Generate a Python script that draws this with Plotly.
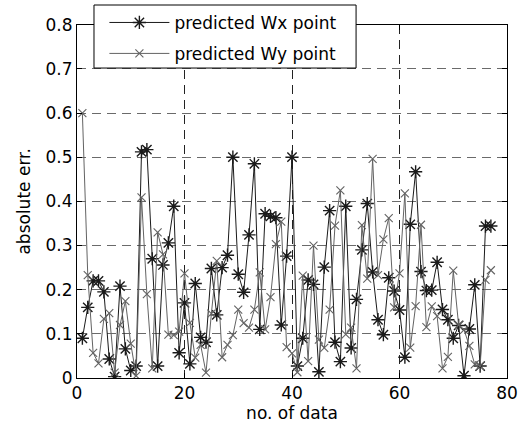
import plotly.graph_objects as go

x_idx = list(range(1, 78))

wx = [0.09, 0.16, 0.22, 0.22, 0.195, 0.043, 0.003, 0.208, 0.066, 0.017,
      0.027, 0.512, 0.517, 0.27, 0.027, 0.256, 0.306, 0.389, 0.057, 0.17,
      0.032, 0.214, 0.092, 0.081, 0.248, 0.143, 0.25, 0.278, 0.50, 0.235,
      0.194, 0.324, 0.485, 0.11, 0.372, 0.366, 0.363, 0.12, 0.276, 0.50,
      0.027, 0.09, 0.222, 0.212, 0.014, 0.251, 0.379, 0.081, 0.037, 0.389,
      0.068, 0.178, 0.29, 0.395, 0.24, 0.132, 0.098, 0.227, 0.197, 0.154,
      0.047, 0.348, 0.467, 0.241, 0.198, 0.199, 0.262, 0.155, 0.132, 0.09,
      0.119, 0.005, 0.111, 0.211, 0.027, 0.344, 0.344]

wy = [0.60, 0.233, 0.057, 0.033, 0.134, 0.147, 0.012, 0.12, 0.174, 0.078,
      0.005, 0.409, 0.19, 0.022, 0.33, 0.28, 0.098, 0.097, 0.105, 0.237,
      0.125, 0.046, 0.075, 0.012, 0.146, 0.265, 0.047, 0.075, 0.097, 0.155,
      0.124, 0.114, 0.155, 0.239, 0.11, 0.183, 0.303, 0.354, 0.07, 0.056,
      0.013, 0.232, 0.038, 0.30, 0.087, 0.068, 0.155, 0.345, 0.425, 0.099,
      0.114, 0.022, 0.346, 0.225, 0.496, 0.233, 0.314, 0.362, 0.16, 0.237,
      0.418, 0.069, 0.163, 0.347, 0.115, 0.162, 0.14, 0.022, 0.048, 0.243,
      0.12, 0.109, 0.073, 0.031, 0.027, 0.222, 0.244]

x_ticks = [0, 20, 40, 60, 80]
y_ticks = [0, 0.1, 0.2, 0.3, 0.4, 0.5, 0.6, 0.7, 0.8]
y_tick_labels = ["0", "0.1", "0.2", "0.3", "0.4", "0.5", "0.6", "0.7", "0.8"]

FONT = "DejaVu Sans, Liberation Sans, Arial, sans-serif"
FS = 17
C_WX = "#1a1a1a"
C_WY = "#636363"

fig = go.Figure()
fig.add_trace(go.Scatter(
    x=x_idx, y=wx, mode="lines+markers", name="predicted Wx point",
    line=dict(color=C_WX, width=1),
    marker=dict(symbol="asterisk-open", size=11, color=C_WX, line=dict(color=C_WX, width=1.4)),
    legend="legend",
))
fig.add_trace(go.Scatter(
    x=x_idx, y=wy, mode="lines+markers", name="predicted Wy point",
    line=dict(color=C_WY, width=1),
    marker=dict(symbol="x-thin-open", size=8, color=C_WY, line=dict(color=C_WY, width=1.1)),
    legend="legend2",
))

axis_common = dict(
    showline=True, linecolor="black", linewidth=1, mirror="ticks",
    ticks="inside", ticklen=5, tickcolor="black",
    showgrid=True, gridwidth=1, griddash="9px,6px",
    zeroline=False, automargin=False,
    tickfont=dict(family=FONT, size=FS, color="black"),
)

fig.update_layout(
    width=525, height=432,
    margin=dict(l=77, r=18, t=5, b=54),
    paper_bgcolor="white", plot_bgcolor="white",
    font=dict(family=FONT, size=FS, color="black"),
    xaxis=dict(range=[0, 80], tickvals=x_ticks, ticktext=[str(v) for v in x_ticks],
               gridcolor="#222222",
               title=dict(text="no. of data", font=dict(family=FONT, size=FS), standoff=4),
               **axis_common),
    yaxis=dict(range=[0, 0.8], tickvals=y_ticks, ticktext=y_tick_labels,
               domain=[0, 0.9472], gridcolor="#6a6a6a",
               title=dict(text="absolute err.", font=dict(family=FONT, size=FS), standoff=10),
               **axis_common),
    legend=dict(x=0.0637, y=0.952, xanchor="left", yanchor="middle", bgcolor="rgba(0,0,0,0)",
                borderwidth=0, itemwidth=60, font=dict(family=FONT, size=FS)),
    legend2=dict(x=0.0637, y=0.869, xanchor="left", yanchor="middle", bgcolor="rgba(0,0,0,0)",
                 borderwidth=0, itemwidth=60, font=dict(family=FONT, size=FS)),
    shapes=[dict(type="rect", xref="paper", yref="paper", x0=0.0395, x1=0.649,
                 y0=0.831, y1=1.0, line=dict(color="black", width=1), fillcolor="white",
                 layer="above")],
    showlegend=True,
)

fig.write_html("out.html", config={"displayModeBar": False},
               post_script="document.body.style.margin='0px';")
